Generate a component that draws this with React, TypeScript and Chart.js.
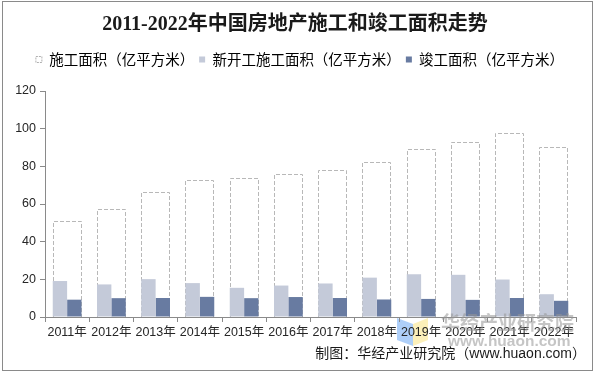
import React, { useEffect, useRef } from "react";
import { Chart, registerables } from "chart.js";

Chart.register(...registerables);

const years = ["2011年", "2012年", "2013年", "2014年", "2015年", "2016年", "2017年", "2018年", "2019年", "2020年", "2021年", "2022年"];
const underConstruction = [50.8, 57.3, 66.6, 72.6, 73.6, 75.9, 78.2, 82.2, 89.4, 92.7, 97.5, 90.5];
const newStarts = [19.1, 17.3, 20.1, 18.0, 15.5, 16.7, 17.8, 20.9, 22.7, 22.4, 19.9, 12.1];
const completed = [9.2, 10.0, 10.1, 10.7, 10.0, 10.6, 10.1, 9.3, 9.6, 9.1, 10.1, 8.6];
const seriesNames = ["施工面积（亿平方米）", "新开工施工面积（亿平方米）", "竣工面积（亿平方米）"];
const yTicks = [0, 20, 40, 60, 80, 100, 120];
const titleText = "2011-2022年中国房地产施工和竣工面积走势";
const sourceText = "制图：华经产业研究院（www.huaon.com）";

const LIGHT = "#c4cad9";
const DARK = "#687ba1";
const DASH = "#b8b8b8";
const SANS = "'Liberation Sans', 'Noto Sans CJK SC', sans-serif";
const CJK = "'Noto Sans CJK SC', 'Liberation Sans', sans-serif";

const frame = {
  id: "frame",
  beforeDraw(chart: any) {
    const ctx = chart.ctx;
    ctx.save();
    ctx.fillStyle = "#ffffff";
    ctx.fillRect(0, 0, chart.width, chart.height);
    ctx.strokeStyle = "#8a8a8a";
    ctx.lineWidth = 1;
    ctx.strokeRect(2.5, 1.5, 590, 369);
    // watermark logo
    ctx.fillStyle = "rgba(120,175,245,0.6)";
    ctx.beginPath();
    ctx.moveTo(397, 318);
    ctx.lineTo(413, 324);
    ctx.lineTo(413, 346);
    ctx.lineTo(397, 340);
    ctx.closePath();
    ctx.fill();
    ctx.fillStyle = "rgba(250,230,140,0.6)";
    ctx.beginPath();
    ctx.moveTo(413, 324);
    ctx.lineTo(428, 318);
    ctx.lineTo(428, 340);
    ctx.lineTo(413, 346);
    ctx.closePath();
    ctx.fill();
    ctx.restore();
  },
  afterDraw(chart: any) {
    const ctx = chart.ctx;
    ctx.save();
    ctx.fillStyle = "rgba(150,150,150,0.55)";
    ctx.textBaseline = "middle";
    ctx.textAlign = "left";
    ctx.font = "bold 19px " + CJK;
    ctx.fillText("华经产业研究院", 441, 323);
    ctx.font = "bold 15.5px " + SANS;
    ctx.fillText("www.huaon.com", 448, 342);
    ctx.fillStyle = "#1a1a1a";
    ctx.textAlign = "right";
    ctx.font = "14px " + SANS;
    ctx.fillText(sourceText, 586, 354);
    ctx.restore();
  },
};

const dashedBars = {
  id: "dashedBars",
  beforeDatasetsDraw(chart: any) {
    const meta = chart.getDatasetMeta(0);
    const ctx = chart.ctx;
    ctx.save();
    ctx.lineWidth = 1;
    ctx.strokeStyle = DASH;
    ctx.setLineDash([4, 2]);
    meta.data.forEach((bar: any) => {
      const { x, y, base, width } = bar.getProps(["x", "y", "base", "width"], true);
      const left = Math.round(x - width / 2) + 0.5;
      const right = Math.round(x + width / 2) - 0.5;
      const top = Math.round(y) + 0.5;
      const bottom = Math.round(base);
      ctx.fillStyle = "#ffffff";
      ctx.fillRect(left, top, right - left, bottom - top);
      ctx.beginPath();
      ctx.moveTo(left, bottom);
      ctx.lineTo(left, top);
      ctx.lineTo(right, top);
      ctx.lineTo(right, bottom);
      ctx.stroke();
    });
    ctx.restore();
  },
};

const legendSpacer = {
  id: "legendSpacer",
  beforeInit(chart: any) {
    const legend = chart.legend;
    if (!legend) return;
    const orig = legend.fit;
    legend.fit = function () {
      orig.call(this);
      this.height += 14.25;
      if (this.lineWidths && this.lineWidths.length) this.lineWidths[0] -= 10;
    };
  },
};

export default function App() {
  const ref = useRef<HTMLCanvasElement | null>(null);

  useEffect(() => {
    if (!ref.current) return;
    const chart = new Chart(ref.current, {
      type: "bar",
      data: {
        labels: years,
        datasets: [
          {
            label: seriesNames[0],
            data: underConstruction,
            backgroundColor: "rgba(0,0,0,0)",
            borderWidth: 0,
            grouped: false,
            barPercentage: 0.65,
            categoryPercentage: 1,
            yAxisID: "y",
          } as any,
          {
            label: seriesNames[1],
            data: newStarts,
            backgroundColor: LIGHT,
            borderWidth: 0,
            barPercentage: 1,
            categoryPercentage: 0.65,
            yAxisID: "y",
          },
          {
            label: seriesNames[2],
            data: completed,
            backgroundColor: DARK,
            borderWidth: 0,
            barPercentage: 1,
            categoryPercentage: 0.65,
            yAxisID: "y",
          },
        ],
      },
      options: {
        responsive: false,
        animation: false,
        devicePixelRatio: 1,
        layout: { padding: { top: 0, left: 0, right: 6, bottom: 30 } },
        plugins: {
          tooltip: { enabled: false },
          title: {
            display: true,
            text: titleText,
            color: "#1a1a1a",
            font: { family: "'Liberation Serif', 'Noto Sans CJK SC', serif", size: 20, weight: "bold" },
            padding: { top: 13, bottom: 10.25 },
          },
          legend: {
            display: true,
            position: "top",
            labels: {
              boxWidth: 6,
              boxHeight: 6,
              padding: 5,
              color: "#333333",
              font: { family: CJK, size: 14.5 },
              generateLabels: () => [
                { text: seriesNames[0], fillStyle: "#ffffff", strokeStyle: "#b0b0b0", lineWidth: 1, lineDash: [2, 1], datasetIndex: 0, hidden: false },
                { text: seriesNames[1], fillStyle: LIGHT, strokeStyle: LIGHT, lineWidth: 0, datasetIndex: 1, hidden: false },
                { text: seriesNames[2], fillStyle: DARK, strokeStyle: DARK, lineWidth: 0, datasetIndex: 2, hidden: false },
              ] as any,
            },
          },
        },
        scales: {
          x: {
            type: "category",
            offset: true,
            grid: { display: true, offset: true, drawOnChartArea: false, drawTicks: true, tickLength: 5, color: "#8a8a8a" },
            border: { display: true, color: "#8a8a8a" },
            ticks: { color: "#262626", font: { family: SANS, size: 12.5 }, padding: 3, maxRotation: 0, autoSkip: false },
            afterFit: (s: any) => {
              s.height = 27;
            },
          },
          y: {
            type: "linear",
            position: "left",
            min: yTicks[0],
            max: yTicks[yTicks.length - 1],
            afterBuildTicks: (s: any) => {
              s.ticks = yTicks.map((v) => ({ value: v }));
            },
            grid: { display: true, drawOnChartArea: false, drawTicks: true, tickLength: 5, color: "#8a8a8a" },
            border: { display: true, color: "#8a8a8a" },
            ticks: { color: "#262626", font: { family: SANS, size: 12.5 }, padding: 4 },
            afterFit: (s: any) => {
              s.width = 45;
            },
          },
          y2: {
            type: "linear",
            position: "right",
            display: true,
            grid: { display: false },
            border: { display: false },
            ticks: { display: false },
            afterFit: (s: any) => {
              s.width = 14;
            },
          },
        },
      } as any,
      plugins: [frame, dashedBars, legendSpacer],
    });
    return () => chart.destroy();
  }, []);

  return (
    <div style={{ position: "absolute", left: 0, top: 0, width: 596, height: 374 }}>
      <canvas ref={ref} width={596} height={374} style={{ display: "block" }} />
    </div>
  );
}
